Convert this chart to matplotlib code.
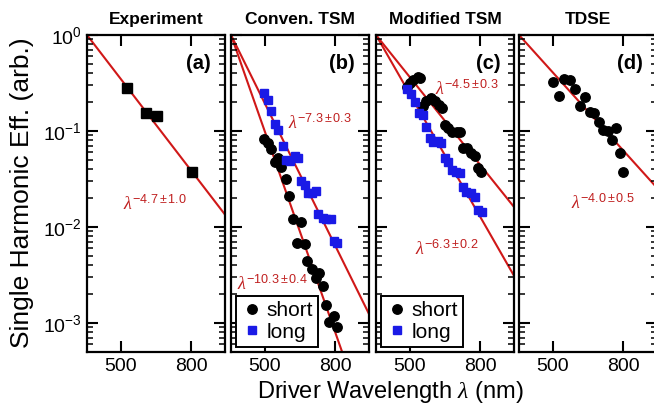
import matplotlib
matplotlib.use('Agg')
import matplotlib.pyplot as plt
from matplotlib.ticker import LogLocator, NullLocator, FixedLocator, LogFormatterSciNotation

plt.rcParams['font.family'] = ['Liberation Sans', 'DejaVu Sans']
plt.rcParams['mathtext.fontset'] = 'custom'
plt.rcParams['mathtext.rm'] = 'Liberation Sans'
plt.rcParams['mathtext.it'] = 'Liberation Serif:italic'
plt.rcParams['mathtext.bf'] = 'Liberation Sans:bold'

# panel titles and labels
titles = ['Experiment', 'Conven. TSM', 'Modified TSM', 'TDSE']
panel_tags = ['(a)', '(b)', '(c)', '(d)']

# experiment
exp_lam = [520, 590, 637, 805]
exp_eff = [0.28, 0.154, 0.143, 0.037]

# conventional TSM
conv_short_lam = [498, 510, 522, 534, 547, 559, 575, 589, 605, 637, 620, 652, 664, 683,
                  703, 719, 737, 750, 768, 795, 810]
conv_short_eff = [0.082, 0.0745, 0.0645, 0.0479, 0.052, 0.0419, 0.0316, 0.0212, 0.0121,
                  0.0112, 0.0069, 0.00665, 0.00446, 0.00365, 0.00292, 0.00334, 0.00245,
                  0.00154, 0.00102, 0.00119, 0.00090]
conv_long_lam = [498, 510, 522, 536, 548, 565, 575, 592, 610, 624, 637, 652, 668, 687,
                 703, 715, 737, 754, 775, 795, 808]
conv_long_eff = [0.247, 0.210, 0.163, 0.118, 0.102, 0.070, 0.050, 0.049, 0.055, 0.053,
                 0.0303, 0.0272, 0.0228, 0.0228, 0.0239, 0.0137, 0.0123, 0.0120, 0.0122,
                 0.0072, 0.0069]

# modified TSM
mod_short_lam = [492, 501, 513, 528, 537, 546, 559, 575, 592, 606, 620, 631, 646, 664,
                 683, 700, 711, 731, 754, 772, 789, 804]
mod_short_eff = [0.289, 0.314, 0.340, 0.368, 0.354, 0.182, 0.207, 0.219, 0.207, 0.187,
                 0.172, 0.1155, 0.1067, 0.0984, 0.0984, 0.0984, 0.066, 0.066, 0.0594,
                 0.055, 0.0409, 0.0377]
mod_long_lam = [492, 504, 518, 533, 548, 559, 571, 585, 603, 617, 634, 646, 661, 679,
                698, 711, 728, 750, 772, 789, 807]
mod_long_eff = [0.272, 0.243, 0.202, 0.153, 0.147, 0.111, 0.084, 0.0774, 0.0792, 0.0745,
                0.052, 0.0479, 0.0393, 0.0377, 0.0368, 0.0263, 0.0233, 0.0225, 0.0207,
                0.0150, 0.0144]

# TDSE
tdse_lam = [500, 520, 540, 560, 580, 600, 620, 640, 660, 680, 700, 720, 740, 760, 780, 800]
tdse_eff = [0.321, 0.232, 0.346, 0.340, 0.274, 0.182, 0.228, 0.159, 0.153, 0.125, 0.102,
            0.1007, 0.0806, 0.108, 0.0586, 0.0377]

# power-law fits lambda^-n, normalised to 1 at 400 nm
fit_exps = [[4.7], [10.3, 7.3], [4.5, 6.3], [4.0]]
fit_labels = [[r'$\lambda^{\mathrm{-4.7\pm1.0}}$'],
              [r'$\lambda^{\mathrm{-10.3\pm0.4}}$', r'$\lambda^{\mathrm{-7.3\pm0.3}}$'],
              [r'$\lambda^{\mathrm{-4.5\pm0.3}}$', r'$\lambda^{\mathrm{-6.3\pm0.2}}$'],
              [r'$\lambda^{\mathrm{-4.0\pm0.5}}$']]
fit_label_pos = [[(0.26, 0.465)], [(0.04, 0.215), (0.41, 0.72)],
                 [(0.43, 0.83), (0.28, 0.325)], [(0.38, 0.47)]]
lam0 = 400.0
lam_fit = [400, 1000]

red = '#d01818'
text_red = '#c02020'
blue = '#1a1ae6'

W, H = 654, 420
fig = plt.figure(figsize=(W / 100, H / 100), dpi=100)
lefts = [87, 231, 376, 519]
pw = 138
top, bottom = 35, 352

axes = []
for i, lx in enumerate(lefts):
    ax = fig.add_axes([lx / W, 1 - bottom / H, pw / W, (bottom - top) / H])
    axes.append(ax)

# draw data
axes[0].plot(exp_lam, exp_eff, 's', color='black', ms=7.5)
axes[1].plot(conv_short_lam, conv_short_eff, 'o', color='black', ms=6.8, label='short')
axes[1].plot(conv_long_lam, conv_long_eff, 's', color=blue, ms=6, label='long')
axes[2].plot(mod_short_lam, mod_short_eff, 'o', color='black', ms=6.8, label='short')
axes[2].plot(mod_long_lam, mod_long_eff, 's', color=blue, ms=6, label='long')
axes[3].plot(tdse_lam, tdse_eff, 'o', color='black', ms=6.8)

for i, ax in enumerate(axes):
    for n, lab, pos in zip(fit_exps[i], fit_labels[i], fit_label_pos[i]):
        ax.plot(lam_fit, [(l / lam0) ** (-n) for l in lam_fit], color=red, lw=1.5, zorder=1)
        ax.text(pos[0], pos[1], lab, transform=ax.transAxes, color=text_red,
                fontsize=13, ha='left', va='center')

    ax.set_xscale('log')
    ax.set_yscale('log')
    ax.set_xlim(400, 1000)
    ax.set_ylim(5e-4, 1)
    ax.xaxis.set_major_locator(FixedLocator([500, 800]))
    ax.xaxis.set_minor_locator(NullLocator())
    ax.set_xticklabels(['500', '800'])
    ax.yaxis.set_major_locator(LogLocator(base=10))
    ax.yaxis.set_minor_locator(LogLocator(base=10, subs=range(2, 10)))
    ax.yaxis.set_major_formatter(LogFormatterSciNotation())
    ax.tick_params(which='both', direction='in', top=True, right=True)
    ax.tick_params(which='major', length=8, width=1.5, labelsize=14, pad=4)
    ax.tick_params(which='minor', length=4.5, width=1.1)
    if i > 0:
        ax.tick_params(axis='y', which='both', labelleft=False)
    for s in ax.spines.values():
        s.set_linewidth(1.6)
    ax.set_title(titles[i], fontsize=12.5, fontweight='bold', pad=8)
    ax.text(0.9, 0.91, panel_tags[i], transform=ax.transAxes, fontsize=14.5,
            fontweight='bold', ha='right', va='center')

for ax in axes[1:3]:
    leg = ax.legend(loc='lower left', fontsize=15, handletextpad=0.2, borderpad=0.25,
                    labelspacing=0.1, handlelength=1.0, fancybox=False,
                    borderaxespad=0.25, framealpha=1)
    leg.get_frame().set_edgecolor('black')
    leg.get_frame().set_linewidth(1.4)

fig.text(22 / W, 1 - 193 / H, 'Single Harmonic Eff. (arb.)', rotation=90,
         fontsize=19, ha='center', va='center')
fig.text(390 / W, 1 - 392 / H, r'Driver Wavelength $\lambda$ (nm)', fontsize=17,
         ha='center', va='center')

fig.savefig('out.png', dpi=100)
